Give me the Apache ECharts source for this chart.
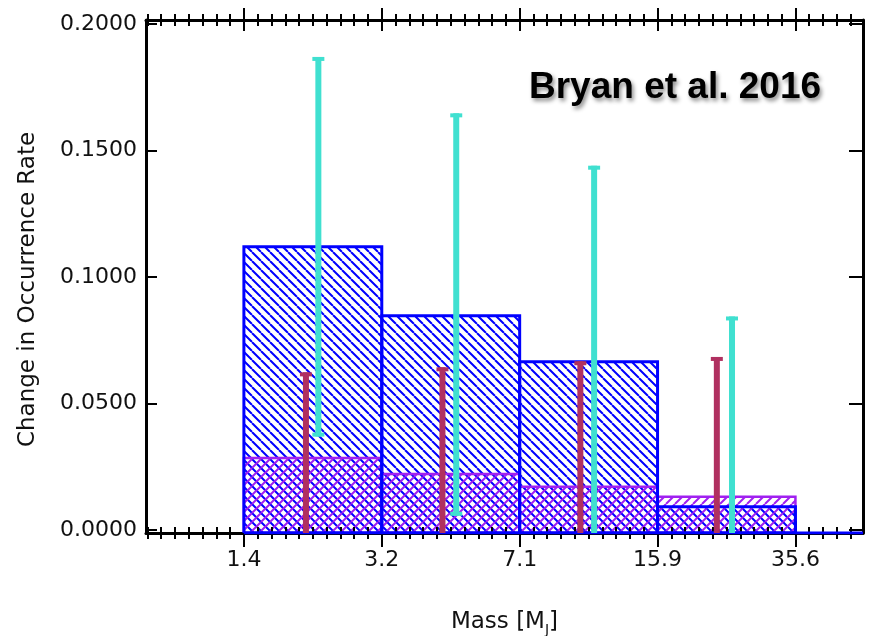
<!DOCTYPE html>
<html><head><meta charset="utf-8">
<script src="https://cdn.jsdelivr.net/npm/echarts@6/dist/echarts.min.js"></script>
<style>html,body{margin:0;padding:0;background:#fff}#c{width:870px;height:636px}</style>
</head><body><div id="c"></div>
<script>
// ---- data (x in units of mass bins on a log scale: 1.4 -> 0, 3.2 -> 1, ...) ----
const massTickLabels = ['1.4', '3.2', '7.1', '15.9', '35.6'];
const massTickPos = [0, 1, 2, 3, 4];
const binLeft = [0, 1, 2, 3];
const binRight = [1, 2, 3, 4];
const allRate = [0.1120, 0.0847, 0.0665, 0.0092];      // blue hatched
const subRate = [0.0284, 0.0221, 0.0171, 0.0131];      // purple hatched
const maroonX = [0.45, 1.44, 2.44, 3.43];
const maroonHigh = [0.0623, 0.0643, 0.0667, 0.0684];
const maroonLow = [-0.0055, -0.0201, -0.0325, -0.0422];
const turqX = [0.54, 1.54, 2.54, 3.54];
const turqHigh = [0.1870, 0.1647, 0.1440, 0.0844];
const turqLow = [0.0369, 0.0056, -0.0106, -0.0660];
const yTicks = [0, 0.05, 0.1, 0.15, 0.2];
const yTickLabels = ['0.0000', '0.0500', '0.1000', '0.1500', '0.2000'];

const X_MIN = -0.71, X_MAX = 4.49, Y_MIN = -0.0012, Y_MAX = 0.2016;
const minorPos = [];
for (let k = -7; k <= 44; k++) minorPos.push(k / 10);

function hatch(color, dir, lw) {
  const s = 9, c = document.createElement('canvas');
  c.width = s; c.height = s;
  const g = c.getContext('2d');
  g.strokeStyle = color; g.lineWidth = lw;
  g.beginPath();
  for (const k of [-s, 0, s]) {
    if (dir === 'back') { g.moveTo(k, 0); g.lineTo(k + s, s); }
    else { g.moveTo(k, s); g.lineTo(k + s, 0); }
  }
  g.stroke();
  return c;
}
const blueHatch = hatch('#0000ff', 'back', 2.0);
const purpleHatch = hatch('#a020f0', 'fwd', 2.0);

const FONT = 'DejaVu Sans';
function tickAxis(pos, values, len, inside) {
  return {
    type: 'value', position: pos, min: X_MIN, max: X_MAX, z: 3,
    axisLine: { show: false, onZero: false },
    axisLabel: { show: false }, splitLine: { show: false },
    axisTick: { show: true, inside: inside, length: len, customValues: values, lineStyle: { color: '#000', width: 2 } }
  };
}

const xAxes = [
  {
    type: 'value', position: 'bottom', min: X_MIN, max: X_MAX, z: 3,
    axisLine: { show: true, onZero: false, lineStyle: { color: '#000', width: 3 } },
    splitLine: { show: false },
    axisTick: { show: true, inside: false, length: 14, customValues: massTickPos, lineStyle: { color: '#000', width: 2 } },
    axisLabel: {
      show: true, customValues: massTickPos, margin: 16,
      fontFamily: FONT, fontSize: 22, color: '#111',
      formatter: v => massTickLabels[massTickPos.indexOf(Math.round(v))]
    },
    name: '{a|Mass [M}{s|J}{a|]}', nameLocation: 'middle', nameGap: 78,
    nameTextStyle: {
      rich: {
        a: { fontFamily: FONT, fontSize: 23, color: '#111', lineHeight: 26, verticalAlign: 'top' },
        s: { fontFamily: FONT, fontSize: 14, color: '#111', lineHeight: 14, verticalAlign: 'bottom', padding: [12, 0, 0, 0] }
      }
    }
  },
  tickAxis('bottom', massTickPos, 12, true),
  tickAxis('bottom', minorPos, 6, false),
  tickAxis('bottom', minorPos, 6, true),
  {
    type: 'value', position: 'top', min: X_MIN, max: X_MAX, z: 3,
    axisLine: { show: true, onZero: false, lineStyle: { color: '#000', width: 3 } },
    splitLine: { show: false }, axisLabel: { show: false },
    axisTick: { show: true, inside: false, length: 12, customValues: massTickPos, lineStyle: { color: '#000', width: 2 } }
  },
  tickAxis('top', massTickPos, 11, true),
  tickAxis('top', minorPos, 6, false),
  tickAxis('top', minorPos, 6, true)
];

const yAxes = [
  {
    type: 'value', position: 'left', min: Y_MIN, max: Y_MAX, z: 3,
    axisLine: { show: true, onZero: false, lineStyle: { color: '#000', width: 3 } },
    splitLine: { show: false },
    axisTick: { show: true, inside: true, length: 11, customValues: yTicks, lineStyle: { color: '#000', width: 2 } },
    axisLabel: {
      show: true, customValues: yTicks, margin: 9,
      fontFamily: FONT, fontSize: 22, color: '#111',
      formatter: v => { const i = yTicks.findIndex(t => Math.abs(t - v) < 1e-9); return i >= 0 ? yTickLabels[i] : ''; }
    },
    name: 'Change in Occurrence Rate', nameLocation: 'middle', nameGap: 106, nameRotate: 90,
    nameTextStyle: { fontFamily: FONT, fontSize: 23, color: '#111', padding: [0, 26, 0, 0] }
  },
  {
    type: 'value', position: 'right', min: Y_MIN, max: Y_MAX, z: 3,
    axisLine: { show: true, onZero: false, lineStyle: { color: '#000', width: 3 } },
    splitLine: { show: false }, axisLabel: { show: false },
    axisTick: { show: true, inside: true, length: 14, customValues: yTicks, lineStyle: { color: '#000', width: 2 } }
  }
];

function barSeries(name, values, fill, stroke, lw, z) {
  return {
    type: 'custom', name: name, xAxisIndex: 0, yAxisIndex: 0, clip: true, z: z,
    data: binLeft.map((l, i) => [l, binRight[i], values[i]]),
    renderItem: (p, api) => {
      const a = api.coord([api.value(0), api.value(2)]);
      const b = api.coord([api.value(1), Y_MIN]);
      return {
        type: 'rect',
        shape: { x: a[0], y: a[1], width: b[0] - a[0], height: b[1] - a[1] },
        style: { fill: fill, stroke: stroke, lineWidth: lw }
      };
    }
  };
}

function errSeries(name, xs, hi, lo, color) {
  return {
    type: 'custom', name: name, xAxisIndex: 0, yAxisIndex: 0, clip: true, z: 6,
    data: xs.map((x, i) => [x, hi[i], lo[i]]),
    renderItem: (p, api) => {
      const h = api.coord([api.value(0), api.value(1)]);
      const l = api.coord([api.value(0), api.value(2)]);
      const sw = 6, cw = 12, ch = 4;
      return {
        type: 'group', children: [
          { type: 'rect', shape: { x: h[0] - sw / 2, y: h[1], width: sw, height: l[1] - h[1] }, style: { fill: color } },
          { type: 'rect', shape: { x: h[0] - cw / 2, y: h[1], width: cw, height: ch }, style: { fill: color } },
          { type: 'rect', shape: { x: l[0] - cw / 2, y: l[1] - ch, width: cw, height: ch }, style: { fill: color } }
        ]
      };
    }
  };
}

const option = {
  animation: false,
  backgroundColor: '#fff',
  title: {
    text: 'Bryan et al. 2016', left: 529, top: 69, padding: 0,
    textStyle: {
      fontFamily: 'Liberation Sans', fontWeight: 'bold', fontSize: 37, color: '#000',
      textShadowColor: 'rgba(0,0,0,0.45)', textShadowBlur: 4, textShadowOffsetX: 2, textShadowOffsetY: 3
    }
  },
  grid: { left: 146, right: 7, top: 20, bottom: 103, containLabel: false, outerBoundsMode: 'none' },
  xAxis: xAxes,
  yAxis: yAxes,
  series: [
    barSeries('all', allRate, { type: 'pattern', image: blueHatch, repeat: 'repeat' }, null, 0, 2),
    barSeries('sub', subRate, { type: 'pattern', image: purpleHatch, repeat: 'repeat' }, '#a020f0', 2.5, 3),
    barSeries('allOutline', allRate, 'rgba(0,0,0,0)', '#0000ff', 3, 4),
    {
      type: 'line', name: 'baseline', xAxisIndex: 0, yAxisIndex: 0, z: 5, symbol: 'none',
      data: [[massTickPos[0], Y_MIN], [X_MAX, Y_MIN]],
      lineStyle: { color: '#0000ff', width: 3 }
    },
    errSeries('maroon', maroonX, maroonHigh, maroonLow, '#b03060'),
    errSeries('turquoise', turqX, turqHigh, turqLow, '#40e0d0')
  ]
};
const chart = echarts.init(document.getElementById('c'), null, { renderer: 'canvas' });
chart.setOption(option);
</script>
</body></html>
